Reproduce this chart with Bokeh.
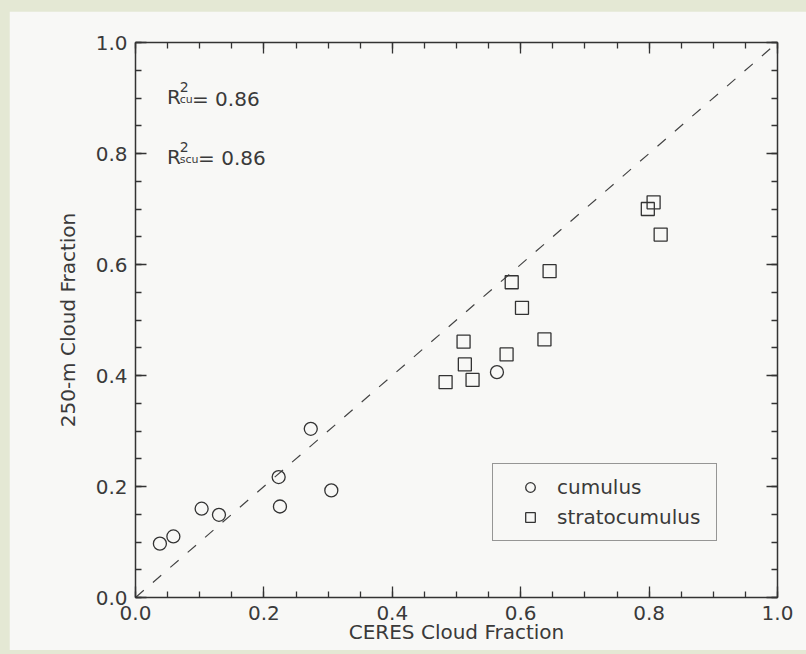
from bokeh.plotting import figure
from bokeh.models import (Range1d, LinearAxis, SingleIntervalTicker, PrintfTickFormatter,
                          Label, Legend, LegendItem, CustomLabelingPolicy)
from bokeh.layouts import column
from bokeh.embed import file_html
from bokeh.resources import INLINE

# ---- data ----
cu_x = [0.038, 0.059, 0.103, 0.130, 0.223, 0.225, 0.273, 0.305, 0.563]
cu_y = [0.097, 0.110, 0.160, 0.149, 0.217, 0.164, 0.304, 0.193, 0.406]
scu_x = [0.807, 0.798, 0.818, 0.645, 0.586, 0.602, 0.511, 0.637, 0.578, 0.513, 0.525, 0.483]
scu_y = [0.712, 0.700, 0.654, 0.588, 0.568, 0.522, 0.461, 0.465, 0.438, 0.420, 0.392, 0.388]
one_to_one = [0.0, 1.0]
series_names = ["cumulus", "stratocumulus"]
r2_subscripts = ["cu", "scu"]
r2_values = [0.86, 0.86]
x_title = "CERES Cloud Fraction"
y_title = "250-m Cloud Fraction"

FONT = "DejaVu Sans"
INK = "#333333"
TXT = "#3a3a3a"
PANEL = "#f8f8f6"
FRAME_GREEN = "#e4e8d4"

p = figure(width=797, height=639, output_backend="svg", toolbar_location=None,
           x_range=Range1d(0, 1), y_range=Range1d(0, 1),
           min_border_left=126, min_border_right=29, min_border_top=31, min_border_bottom=53,
           background_fill_color=PANEL, border_fill_color=PANEL,
           outline_line_color=None, x_axis_label=x_title, y_axis_label=y_title)
p.margin = (11, 0, 4, 9)
p.grid.visible = False

no_labels = CustomLabelingPolicy(code="""
    for (const i of indices) {
        indices.unset(i)
    }
    return indices
""")


def style_axis(ax, labels=True):
    ax.ticker = SingleIntervalTicker(interval=0.2, num_minor_ticks=4)
    ax.axis_line_color = INK
    ax.axis_line_width = 1.5
    ax.major_tick_line_color = INK
    ax.minor_tick_line_color = INK
    ax.major_tick_line_width = 1.3
    ax.minor_tick_line_width = 1.3
    ax.major_tick_in = 11
    ax.major_tick_out = 0
    ax.minor_tick_in = 6
    ax.minor_tick_out = 0
    ax.major_label_text_font = FONT
    ax.major_label_text_color = TXT
    ax.axis_label_text_font = FONT
    ax.axis_label_text_color = TXT
    ax.axis_label_text_font_style = "normal"
    ax.axis_label_text_font_size = "20px"
    ax.formatter = PrintfTickFormatter(format="%.1f")
    if labels:
        ax.major_label_text_font_size = "20px"
    else:
        ax.major_label_text_font_size = "1px"
        ax.major_label_standoff = 0
        ax.major_label_policy = no_labels


xa = p.xaxis[0]
ya = p.yaxis[0]
style_axis(xa)
style_axis(ya)
xa.major_label_standoff = 8
xa.axis_label_standoff = -3
ya.major_label_standoff = 8
ya.axis_label_standoff = 13

top = LinearAxis()
right = LinearAxis()
style_axis(top, labels=False)
style_axis(right, labels=False)
p.add_layout(top, "above")
p.add_layout(right, "right")

# 1:1 line
p.line(one_to_one, one_to_one, line_color="#444444", line_width=1.2, line_dash="11 12")

r_cu = p.scatter(cu_x, cu_y, marker="circle", size=13, fill_color=None,
                 line_color=INK, line_width=1.3)
r_scu = p.scatter(scu_x, scu_y, marker="square", size=13, fill_color=None,
                  line_color=INK, line_width=1.3)

legend = Legend(items=[LegendItem(label=series_names[0], renderers=[r_cu]),
                       LegendItem(label=series_names[1], renderers=[r_scu])],
                location=(357, 56), padding=11, spacing=6,
                glyph_width=52, glyph_height=24, label_standoff=1,
                label_width=148, label_height=24, margin=0,
                label_text_font=FONT, label_text_font_size="20px", label_text_color=TXT,
                border_line_color=INK, border_line_width=1.3,
                background_fill_alpha=0)
p.add_layout(legend, "center")

# R^2 annotations (placement in data units of the 0..1 axes)
r2_layout = [
    dict(R=(0.049, 0.901), sup=(0.0690, 0.919), sub=(0.0690, 0.897), val=(0.0880, 0.899)),
    dict(R=(0.049, 0.793), sup=(0.0690, 0.811), sub=(0.0690, 0.789), val=(0.0975, 0.791)),
]
for sub, val, pos in zip(r2_subscripts, r2_values, r2_layout):
    common = dict(text_font=FONT, text_color=TXT, text_baseline="alphabetic")
    p.add_layout(Label(x=pos["R"][0], y=pos["R"][1], text="R", text_font_size="20px", **common))
    p.add_layout(Label(x=pos["sup"][0], y=pos["sup"][1], text="2", text_font_size="14px", **common))
    p.add_layout(Label(x=pos["sub"][0], y=pos["sub"][1], text=sub, text_font_size="11px", **common))
    p.add_layout(Label(x=pos["val"][0], y=pos["val"][1], text=f"= {val:.2f}",
                       text_font_size="20px", **common))

layout = column(p, width=806, height=654, styles={"background-color": FRAME_GREEN})

open("out.html", "w").write(file_html(layout, INLINE))
